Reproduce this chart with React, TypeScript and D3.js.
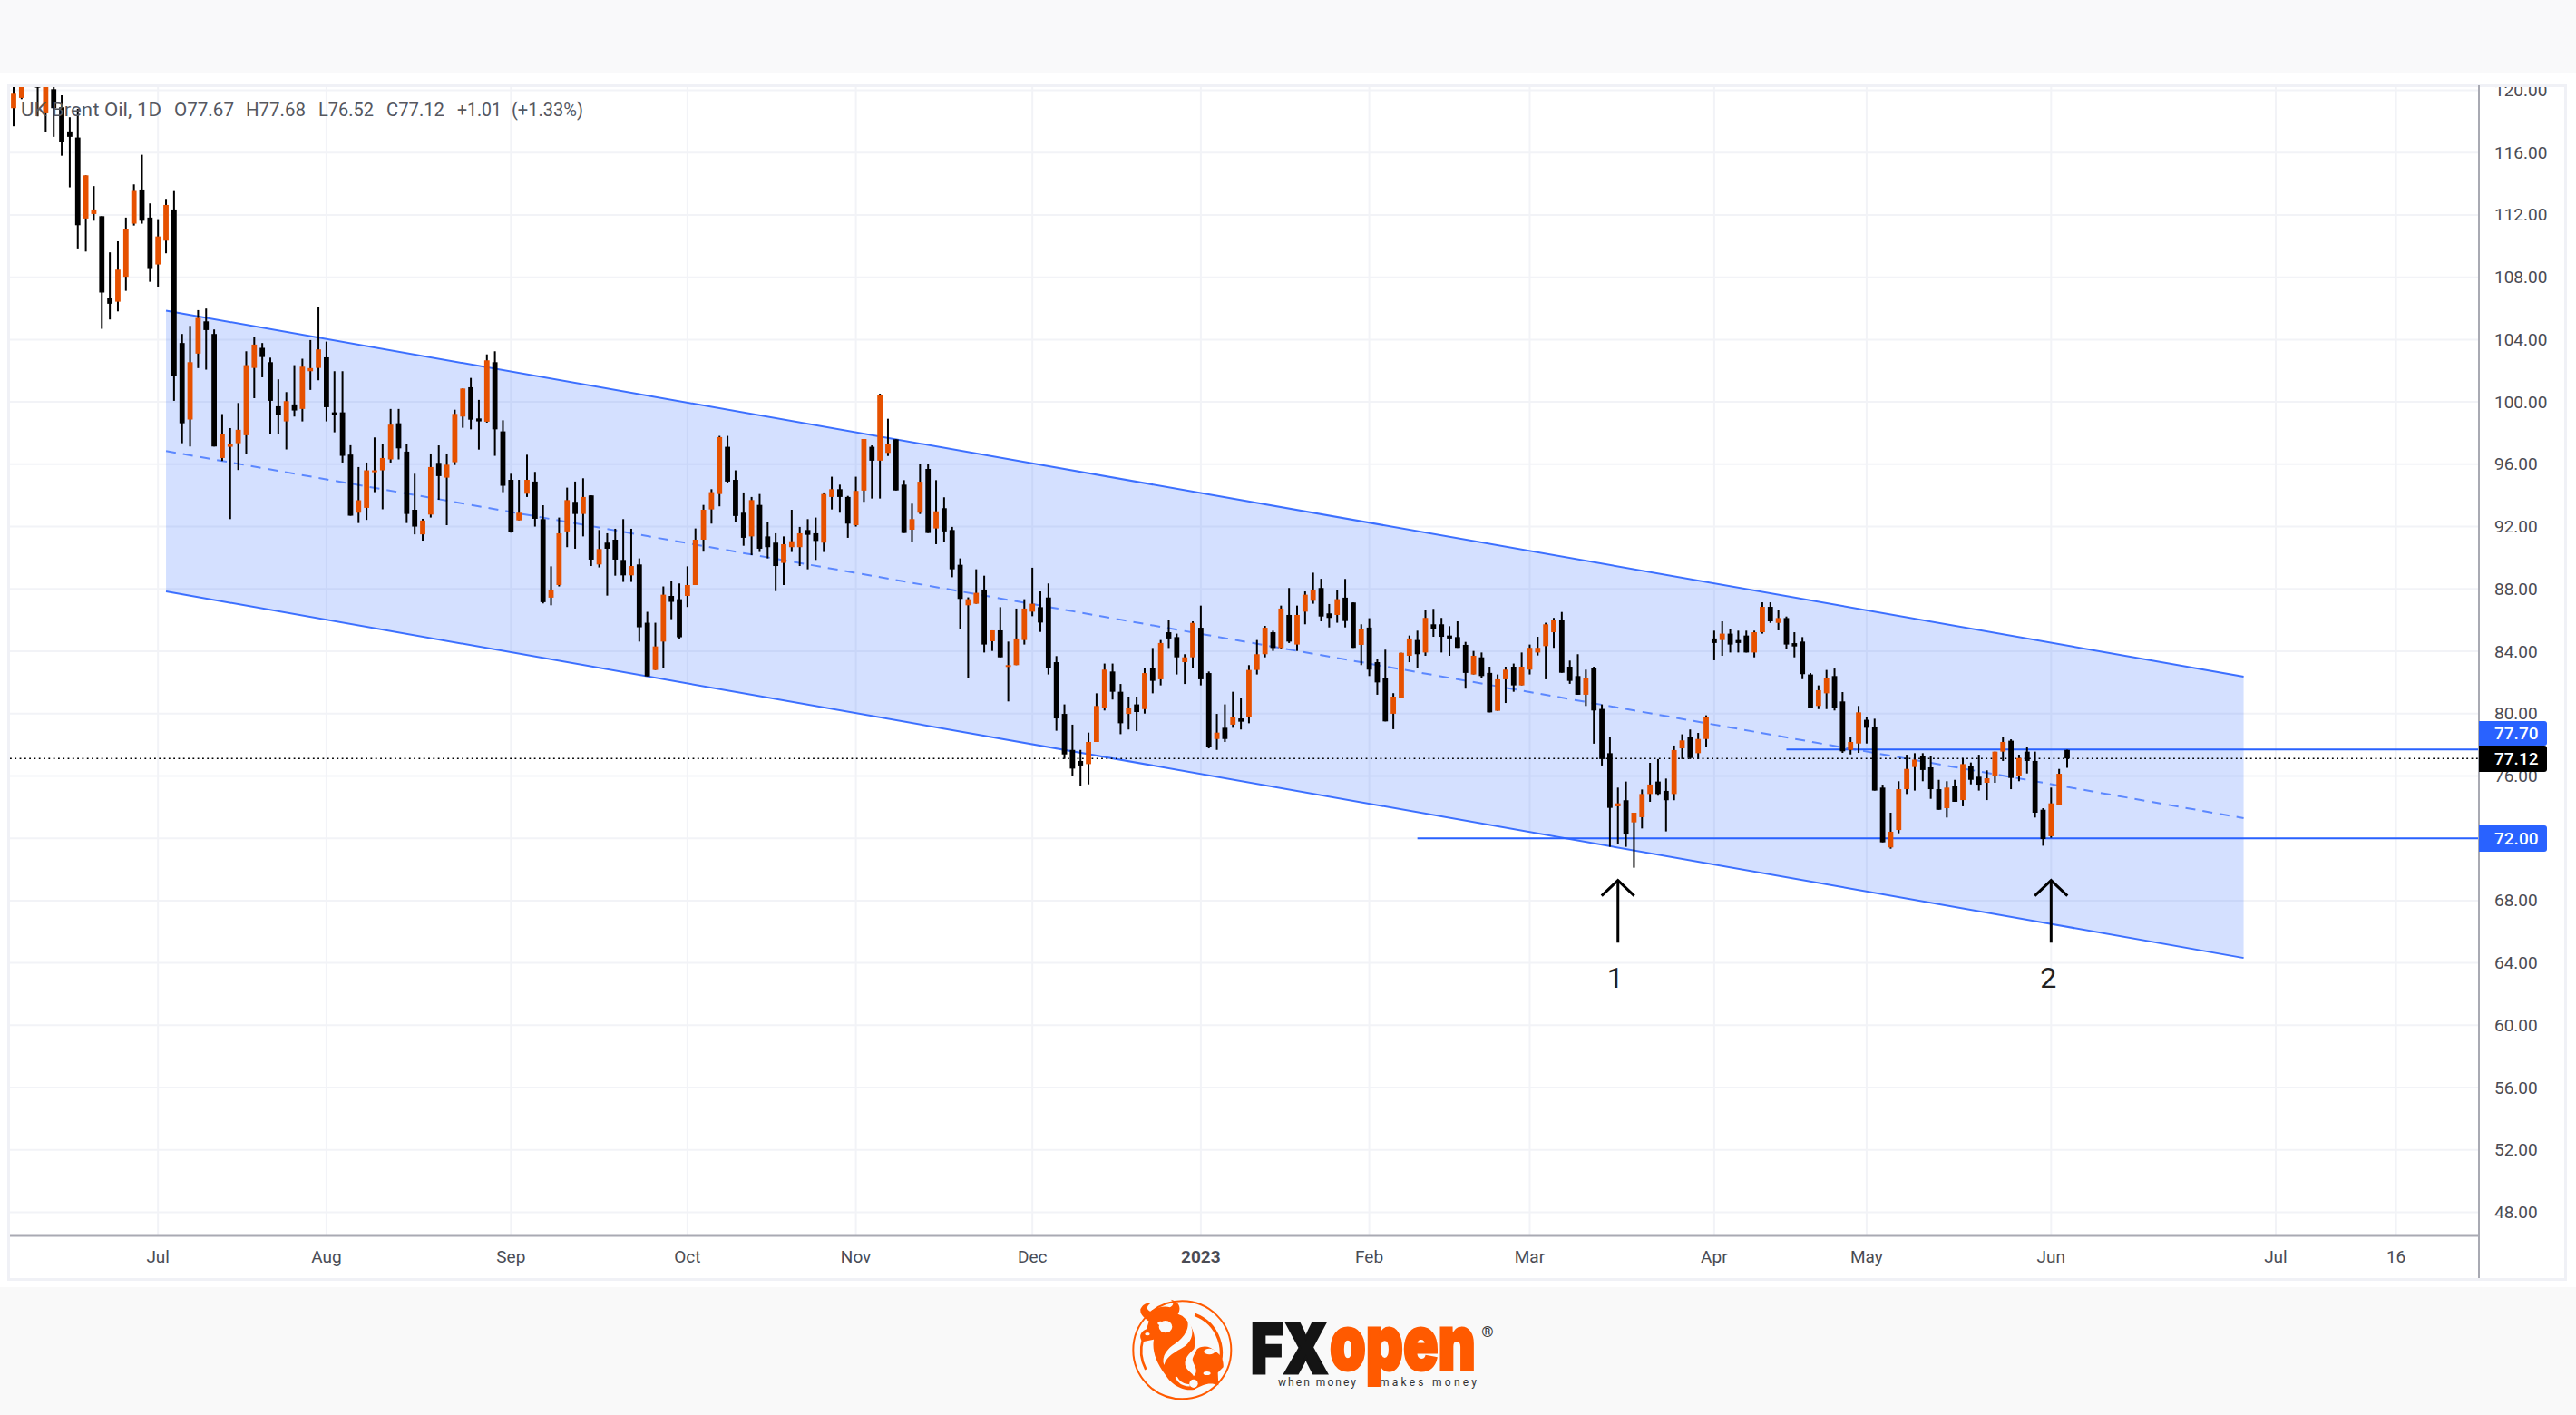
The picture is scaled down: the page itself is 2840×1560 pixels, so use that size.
import React from "react";
import * as d3 from "d3";

// Daily bars, each row: open, high, low, close
const jun22 = [[118.85,121.2,117.69,119.78],[119.51,121.8,119.43,121.0],[122.0,123.0,121.0,121.5],[121.5,122.0,118.33,120.17],[118.52,122.5,117.30,121.5],[120.07,121.0,117.01,118.85],[118.91,119.68,115.80,116.68],[117.36,118.27,113.77,117.01],[116.97,118.81,109.85,111.34],[111.77,114.54,109.65,114.54],[112.06,113.85,111.63,112.35],[111.92,111.92,104.69,107.02],[106.69,109.60,105.29,106.30],[106.43,110.31,105.81,108.49],[108.03,111.83,107.13,111.11],[111.44,113.96,111.32,113.54],[113.63,115.86,111.44,111.63],[111.83,112.74,107.71,108.53]];
const jul22 = [[108.82,111.73,107.40,110.62],[110.35,113.03,109.54,112.64],[112.35,113.53,100.07,101.66],[103.78,104.36,97.35,98.63],[98.87,104.88,97.14,102.55],[103.10,105.89,102.17,105.39],[105.17,105.99,102.07,104.61],[104.36,104.65,97.14,97.14],[96.40,99.22,96.21,97.92],[97.12,98.32,92.48,97.32],[97.35,99.93,95.63,98.21],[97.86,103.25,96.64,102.36],[102.18,104.16,100.24,103.68],[103.47,103.78,101.58,102.88],[102.55,102.84,97.96,100.07],[99.72,101.45,97.96,99.16],[98.75,100.63,96.95,100.05],[99.84,102.36,99.06,99.45],[99.55,102.77,98.75,102.26],[101.97,103.97,100.77,102.17],[102.18,106.10,101.39,103.37]];
const aug22 = [[102.86,103.87,98.75,99.66],[99.33,101.97,98.05,99.16],[99.33,101.97,96.11,96.54],[96.62,97.22,92.70,92.70],[92.89,95.82,92.23,93.69],[93.20,96.11,92.43,95.61],[95.49,97.72,94.21,95.61],[95.61,97.32,93.11,96.40],[96.31,99.55,96.11,98.54],[98.63,99.55,96.31,97.02],[96.81,97.32,92.23,92.81],[93.08,95.39,91.5,92.0],[91.5,92.5,91.1,92.39],[92.77,96.69,92.58,95.82],[96.09,97.21,93.72,95.24],[95.14,96.69,92.09,95.97],[96.13,99.50,95.95,99.23],[99.06,100.86,98.34,100.86],[100.94,101.54,98.24,98.86],[98.94,100.13,96.94,98.75],[98.73,103.05,98.67,102.67],[102.55,103.25,96.54,98.24],[98.11,98.82,94.21,94.62]];
const sep22 = [[95.00,95.39,91.61,91.65],[92.40,95.00,92.40,92.89],[94.11,96.61,93.90,95.00],[94.89,95.51,92.00,92.50],[92.48,93.37,87.07,87.15],[87.44,89.45,86.95,87.96],[88.25,92.58,88.16,91.57],[91.69,94.50,90.68,93.70],[93.59,94.89,90.58,92.81],[92.81,95.10,91.37,93.90],[94.00,94.00,89.47,89.88],[89.57,91.78,89.38,90.56],[90.97,91.57,87.57,90.58],[91.16,91.86,88.85,89.88],[89.86,92.48,88.45,88.87],[88.87,91.86,88.45,89.47],[89.57,89.96,84.62,85.54],[85.83,86.53,82.39,82.39],[82.80,85.83,82.80,84.31],[84.62,88.16,82.90,87.63],[87.55,88.54,86.06,87.17],[87.34,88.35,84.82,84.90]];
const oct22 = [[87.55,89.45,86.84,88.25],[88.25,91.88,88.25,91.16],[91.16,93.39,90.39,93.08],[93.10,94.40,92.19,94.21],[94.09,97.82,93.30,97.74],[97.12,97.82,94.81,94.89],[95.00,95.61,92.29,92.68],[92.89,94.19,90.77,91.28],[91.37,93.90,90.17,93.70],[93.39,94.09,90.37,90.58],[91.37,92.27,89.96,90.68],[90.97,91.57,87.86,89.47],[89.67,91.37,88.25,90.87],[90.68,93.08,90.37,91.06],[90.68,91.98,89.47,91.57],[91.78,92.48,89.26,91.47],[91.57,92.58,89.86,91.08],[90.97,94.19,90.37,94.09],[93.90,95.20,93.10,94.40],[94.40,94.69,92.89,93.90],[93.90,93.97,91.28,92.19]];
const nov22 = [[92.09,95.20,92.00,94.29],[94.31,97.62,93.59,97.62],[97.12,97.21,93.80,96.23],[96.23,100.53,93.80,100.45],[96.73,98.92,96.53,97.33],[97.60,97.60,94.32,94.32],[94.69,94.98,91.59,91.59],[91.80,93.47,90.99,92.48],[92.89,95.99,92.81,94.88],[95.70,95.99,91.59,91.59],[91.88,94.98,90.87,92.98],[93.18,93.88,90.99,91.69],[91.78,91.98,88.75,89.26],[89.55,89.96,85.44,87.36],[86.95,87.46,82.31,87.34],[87.05,89.26,87.05,87.75],[87.96,88.85,83.92,84.43],[84.64,85.34,84.02,85.34],[85.34,86.83,83.61,83.61],[83.03,84.62,80.78,83.11],[83.11,86.74,83.11,84.82],[84.72,87.34,84.43,86.74]];
const dec22 = [[86.54,89.36,86.25,87.05],[86.83,87.84,85.24,85.84],[87.45,88.35,82.51,82.91],[83.30,83.69,78.90,79.69],[79.98,80.59,77.09,77.38],[77.67,79.29,75.97,76.47],[76.96,77.67,75.35,76.67],[76.76,78.78,75.46,78.18],[78.18,81.30,78.18,80.49],[80.39,83.21,80.20,82.82],[82.70,83.21,80.90,81.40],[81.40,81.90,78.68,79.38],[79.98,81.09,78.98,80.39],[80.59,81.09,78.88,80.10],[80.29,82.91,80.00,82.60],[82.91,84.21,81.30,82.10],[82.20,84.72,81.81,84.53],[85.22,86.02,84.21,84.82],[84.91,85.13,82.51,83.61],[83.30,83.81,81.90,83.61],[83.61,85.92,82.91,85.82]];
const jan23 = [[85.51,86.93,81.81,82.20],[82.60,82.70,77.77,77.87],[78.37,79.98,77.67,78.78],[79.09,80.59,78.18,78.37],[79.29,81.40,79.09,79.79],[79.69,81.00,78.98,79.48],[79.79,83.11,79.38,82.80],[82.80,84.72,82.51,83.81],[83.81,85.63,83.61,85.51],[85.22,85.32,84.02,84.21],[84.21,86.93,84.12,86.74],[86.33,88.06,84.53,84.62],[84.43,86.93,84.02,86.33],[86.54,87.84,85.73,87.63],[87.24,89.04,87.05,87.96],[88.06,88.65,85.92,86.23],[86.43,87.03,85.53,86.14],[86.33,87.94,85.83,87.34],[87.44,88.64,85.53,85.94],[87.13,87.13,84.22,84.22],[84.41,85.73,83.11,85.42]];
const feb23 = [[85.52,86.12,82.41,82.82],[83.30,83.50,81.21,82.00],[82.29,84.10,79.50,79.50],[79.99,81.31,79.00,81.09],[81.00,83.90,81.00,83.90],[83.71,85.01,83.30,84.82],[84.72,85.32,82.92,83.81],[83.92,86.62,83.71,86.14],[85.73,86.72,84.93,85.42],[85.73,86.14,83.92,84.93],[85.01,85.61,83.71,84.82],[84.91,85.92,84.22,84.22],[84.41,84.60,81.60,82.61],[82.51,84.02,82.51,83.71],[83.61,83.92,82.31,82.41],[82.61,83.01,80.08,80.08],[80.18,82.51,80.18,82.20],[82.20,83.01,80.68,82.82],[83.01,83.21,81.40,81.81],[81.81,83.92,81.81,83.01]];
const mar23 = [[82.82,84.43,82.51,84.22],[83.92,84.93,83.73,84.22],[84.33,85.83,82.20,85.73],[85.22,86.14,84.22,86.02],[86.02,86.52,82.62,82.62],[83.01,83.40,81.91,82.10],[82.41,83.81,81.21,81.21],[81.21,82.82,80.49,82.31],[82.92,83.01,78.07,80.20],[80.30,80.59,76.67,77.08],[77.46,78.47,71.45,73.95],[74.05,75.25,71.62,74.24],[74.44,75.64,71.45,72.24],[73.02,73.64,70.11,73.64],[73.35,75.13,72.63,74.84],[74.84,76.84,74.34,75.45],[75.64,77.08,74.73,74.84],[75.04,75.83,72.44,74.44],[74.84,77.95,74.44,77.66],[77.77,78.67,77.08,78.28],[78.47,78.98,77.08,77.15],[77.46,78.76,77.08,78.37],[78.37,79.89,77.87,79.79]];
const apr23 = [[84.82,85.32,83.42,84.53],[84.72,85.92,83.71,85.13],[85.13,85.42,83.92,84.43],[84.72,85.32,83.92,84.53],[85.01,85.32,83.92,83.92],[83.92,85.32,83.61,85.22],[85.22,87.14,85.13,86.85],[86.85,87.14,85.82,85.92],[85.82,86.64,85.34,86.13],[86.13,86.23,84.12,84.43],[84.52,85.22,83.61,84.31],[84.62,84.91,82.21,82.53],[82.51,82.60,80.39,80.39],[80.49,81.81,80.29,81.50],[81.30,82.80,80.29,82.29],[82.41,82.89,80.20,80.39],[80.78,81.38,77.48,77.58],[77.67,78.47,77.38,78.18],[78.08,80.49,77.48,80.08]];
const may23 = [[79.60,79.79,78.08,79.09],[79.17,79.67,75.06,75.06],[75.25,75.44,71.74,71.74],[71.41,73.64,71.33,72.42],[72.53,75.66,72.32,75.15],[75.15,77.36,74.84,76.45],[76.57,77.46,75.06,77.05],[77.25,77.46,75.66,76.38],[76.55,77.25,74.53,75.15],[75.15,75.75,73.83,73.83],[73.93,75.66,73.33,75.25],[75.35,75.75,74.34,74.34],[74.45,77.15,74.05,76.76],[76.65,76.86,75.46,75.75],[75.95,77.36,75.06,75.44],[75.56,76.36,74.45,75.85],[75.97,77.56,75.56,77.56],[77.56,78.47,76.96,78.18],[78.26,78.35,75.15,75.87],[75.97,77.36,75.66,77.15],[77.56,77.87,76.16,76.96],[76.96,77.56,73.33,73.64],[73.83,73.93,71.52,71.95]];
const jun23 = [[72.13,75.25,72.03,74.24],[74.14,76.45,74.14,76.14],[77.67,77.68,76.52,77.12]];

const bars = [jun22, jul22, aug22, sep22, oct22, nov22, dec22, jan23, feb23, mar23, apr23, may23, jun23].flat();

const priceTicks = [120,116,112,108,104,100,96,92,88,84,80,76,72,68,64,60,56,52,48];
const timeTickBars = [18,39,62,84,105,127,148,169,189,212,231,254,282,297];
const timeTickLabels = ["Jul","Aug","Sep","Oct","Nov","Dec","2023","Feb","Mar","Apr","May","Jun","Jul","16"];

// Channel drawing anchored at two bars
const channelBars = [19, 278];
const channelUpper = [105.85, 82.37];
const channelMiddle = [96.85, 73.29];
const channelLower = [87.84, 64.32];

const supportPrice = 72.0;
const supportStartBar = 175;
const resistancePrice = 77.7;
const resistanceStartBar = 221;
const lastPrice = 77.12;

const arrowBars = [200, 254];
const arrowLabels = ["1", "2"];
const arrowTipPrice = 69.3;
const arrowTailPrice = 65.3;
const arrowLabelPrice = 63.05;

const legendParts = [
  { t: "UK Brent Oil, 1D", a: 23, b: 178 },
  { t: "O77.67", a: 192, b: 258 },
  { t: "H77.68", a: 271, b: 337 },
  { t: "L76.52", a: 351, b: 412 },
  { t: "C77.12", a: 426, b: 490 },
  { t: "+1.01", a: 504, b: 553 },
  { t: "(+1.33%)", a: 564, b: 643 },
];

const UP = "#e65100";
const DOWN = "#000000";
const BLUE = "#2962ff";
const GRID = "#f2f3f7";
const FRAME = "#f0f1f6";
const AXIS = "#a9aab3";
const LABEL = "#4a4c55";
const FONT = "Roboto, 'Noto Sans', sans-serif";

const x = d3.scaleLinear().domain([0, 256]).range([15, 2279]);
const y = d3.scaleLinear().domain([120, 48]).range([99.5, 1336.5]);

const PLOT = { left: 11, right: 2733, top: 96, bottom: 1362.5 };

function pts(prices: number[]) {
  return channelBars.map((b, i) => [x(b), y(prices[i])] as [number, number]);
}

function Logo() {
  return (
    <g>
      <g transform="translate(1200,1410) scale(0.3333)" fill="#ff5a00">
        <circle cx={310} cy={235} r={162} fill="none" stroke="#ff5a00" strokeWidth={6} />
        <path d="M352 118 A134 134 0 0 1 420 312" fill="none" stroke="#ff5a00" strokeWidth={10} />
        <path d="M190 300 A134 134 0 0 1 180 200" fill="none" stroke="#ff5a00" strokeWidth={8} />
        <path d="M172 100 C180 84 192 78 205 80 C190 92 192 100 205 108 C225 92 255 88 270 94 C282 88 284 76 272 68 C295 72 310 92 296 116 L310 122 C345 150 362 195 346 245 C362 222 395 214 420 240 C438 250 448 268 446 292 L428 310 L430 352 C400 340 380 350 350 366 C310 372 275 350 255 318 C222 275 210 235 216 200 L180 208 C165 195 170 175 192 166 L200 140 C185 128 170 118 172 100 Z" />
        <path d="M325 132 C340 165 310 200 285 215 C262 230 240 255 250 285 C258 255 290 240 315 225 C352 200 350 160 325 132 Z" fill="#f9f9f9" />
        <path d="M362 222 C345 235 315 258 320 285 C325 305 345 310 348 322 C370 300 340 280 345 262 C350 248 358 238 362 222 Z" fill="#f9f9f9" />
        <ellipse cx={255} cy={158} rx={22} ry={20} fill="#f9f9f9" />
        <ellipse cx={238} cy={146} rx={9} ry={6} fill="#f9f9f9" />
        <ellipse cx={392} cy={312} rx={12} ry={6} fill="#f9f9f9" />
        <ellipse cx={348} cy={346} rx={14} ry={14} fill="#f9f9f9" />
        <ellipse cx={400} cy={240} rx={18} ry={10} fill="#f9f9f9" />
        <ellipse cx={195} cy={182} rx={8} ry={5} fill="#f9f9f9" />
        <path d="M290 325 C300 345 320 352 335 352" fill="none" stroke="#f9f9f9" strokeWidth={7} />
      </g>
      <text x={1379} y={1514} fontFamily="Inter, sans-serif" fontWeight={900} fontSize={76} fill="#141414" stroke="#141414" strokeWidth={3} textLength={85} lengthAdjust="spacingAndGlyphs">FX</text>
      <text x={1466} y={1510} fontFamily="Inter, sans-serif" fontWeight={900} fontSize={84} fill="#ff5a00" stroke="#ff5a00" strokeWidth={3} textLength={161} lengthAdjust="spacingAndGlyphs">open</text>
      <text x={1409} y={1528} fontFamily="Roboto, sans-serif" fontSize={12} fill="#333" textLength={86}>when money</text>
      <text x={1521} y={1528} fontFamily="Roboto, sans-serif" fontSize={12} fill="#333" textLength={107}>makes money</text>
      <text x={1640} y={1474} fontFamily="Roboto, sans-serif" fontSize={17} fill="#333" textAnchor="middle">®</text>
    </g>
  );
}

export default function App() {
  const upper = pts(channelUpper);
  const middle = pts(channelMiddle);
  const lower = pts(channelLower);
  const line = d3.line();
  const area = line([upper[0], upper[1], lower[1], lower[0]]) + "Z";

  return (
    <svg width={2840} height={1560} viewBox="0 0 2840 1560" style={{ position: "absolute", left: 0, top: 0, background: "#fff" }}>
      <defs>
        <clipPath id="plot"><rect x={PLOT.left} y={PLOT.top} width={PLOT.right - PLOT.left} height={PLOT.bottom - PLOT.top} /></clipPath>
        <clipPath id="priceAxis"><rect x={PLOT.right} y={PLOT.top} width={94} height={1310} /></clipPath>
      </defs>

      <rect x={0} y={0} width={2840} height={80} fill="#f9f9fa" />
      <rect x={0} y={1419} width={2840} height={141} fill="#f9f9f9" />
      <rect x={9.5} y={94.5} width={2819} height={1316} fill="#fff" stroke={FRAME} strokeWidth={3} />

      <g stroke={GRID} strokeWidth={2}>
        {priceTicks.map((p) => (
          <line key={p} x1={PLOT.left} x2={PLOT.right} y1={y(p)} y2={y(p)} />
        ))}
        {timeTickBars.map((b) => (
          <line key={b} x1={x(b)} x2={x(b)} y1={PLOT.top} y2={PLOT.bottom} />
        ))}
      </g>

      <g clipPath="url(#plot)">
        <path d={area} fill={BLUE} fillOpacity={0.2} />
        <path d={line(upper)!} fill="none" stroke={BLUE} strokeWidth={2} strokeOpacity={0.9} />
        <path d={line(lower)!} fill="none" stroke={BLUE} strokeWidth={2} strokeOpacity={0.9} />
        <path d={line(middle)!} fill="none" stroke={BLUE} strokeWidth={2} strokeDasharray="11 8" strokeOpacity={0.7} />
        <line x1={x(supportStartBar)} x2={PLOT.right} y1={y(supportPrice)} y2={y(supportPrice)} stroke={BLUE} strokeWidth={2} />
        <line x1={x(resistanceStartBar)} x2={PLOT.right} y1={y(resistancePrice)} y2={y(resistancePrice)} stroke={BLUE} strokeWidth={2} />
        <line x1={PLOT.left} x2={PLOT.right} y1={y(lastPrice)} y2={y(lastPrice)} stroke="#000" strokeWidth={1.6} strokeDasharray="1.8 3.5" />

        {bars.map(([o, h, l, c], i) => {
          const col = c >= o ? UP : DOWN;
          const top = y(Math.max(o, c));
          const bot = y(Math.min(o, c));
          return (
            <g key={i} fill={col}>
              <rect x={x(i) - 1} width={2} y={y(h)} height={y(l) - y(h)} fill={DOWN} />
              <rect x={x(i) - 2.9} width={5.8} y={top} height={Math.max(bot - top, 2)} />
            </g>
          );
        })}

        {arrowBars.map((b, i) => {
          const ax = x(b);
          const tip = y(arrowTipPrice);
          const tail = y(arrowTailPrice);
          return (
            <g key={i} fill="none" stroke="#000" strokeWidth={3}>
              <line x1={ax} x2={ax} y1={tip} y2={tail} />
              <path d={d3.line()([[ax - 18, tip + 17], [ax, tip], [ax + 18, tip + 17]])!} strokeLinejoin="miter" />
            </g>
          );
        })}
        {arrowBars.map((b, i) => (
          <text key={i} x={x(b) - 3} y={y(arrowLabelPrice)} dominantBaseline="central" textAnchor="middle" fontFamily={FONT} fontSize={32} fill="#222">{arrowLabels[i]}</text>
        ))}
      </g>

      <g fontFamily={FONT} fontSize={21} fill="#55575f">
        {legendParts.map((p) => (
          <text key={p.t} x={p.a} y={127.5} textLength={p.b - p.a} lengthAdjust="spacingAndGlyphs">{p.t}</text>
        ))}
      </g>

      <line x1={PLOT.right} x2={PLOT.right} y1={PLOT.top - 2} y2={1409} stroke={AXIS} strokeWidth={2} />
      <line x1={PLOT.left} x2={PLOT.right} y1={PLOT.bottom} y2={PLOT.bottom} stroke={AXIS} strokeWidth={2} />

      <g clipPath="url(#priceAxis)" fontFamily={FONT} fontSize={19} fill={LABEL}>
        {priceTicks.map((p) => (
          <text key={p} x={2750} y={y(p)} dominantBaseline="central">{p.toFixed(2)}</text>
        ))}
      </g>

      <g fontFamily={FONT} fontSize={19} fill={LABEL} textAnchor="middle">
        {timeTickBars.map((b, i) => (
          <text key={b} x={x(b)} y={1385} dominantBaseline="central" fontWeight={timeTickLabels[i] === "2023" ? 700 : 400}>{timeTickLabels[i]}</text>
        ))}
      </g>

      <g fontFamily={FONT} fontSize={19} fontWeight={500}>
        {[
          { top: 795, h: 27, fill: BLUE, t: resistancePrice },
          { top: 822, h: 29, fill: "#000", t: lastPrice },
          { top: 910, h: 29, fill: BLUE, t: supportPrice },
        ].map((b) => (
          <g key={b.t}>
            <path d={`M2733 ${b.top}H2805a3 3 0 0 1 3 3V${b.top + b.h - 3}a3 3 0 0 1 -3 3H2733Z`} fill={b.fill} />
            <text x={2750} y={b.top + b.h / 2} dominantBaseline="central" fill="#fff">{b.t.toFixed(2)}</text>
          </g>
        ))}
      </g>

      <Logo />
    </svg>
  );
}
